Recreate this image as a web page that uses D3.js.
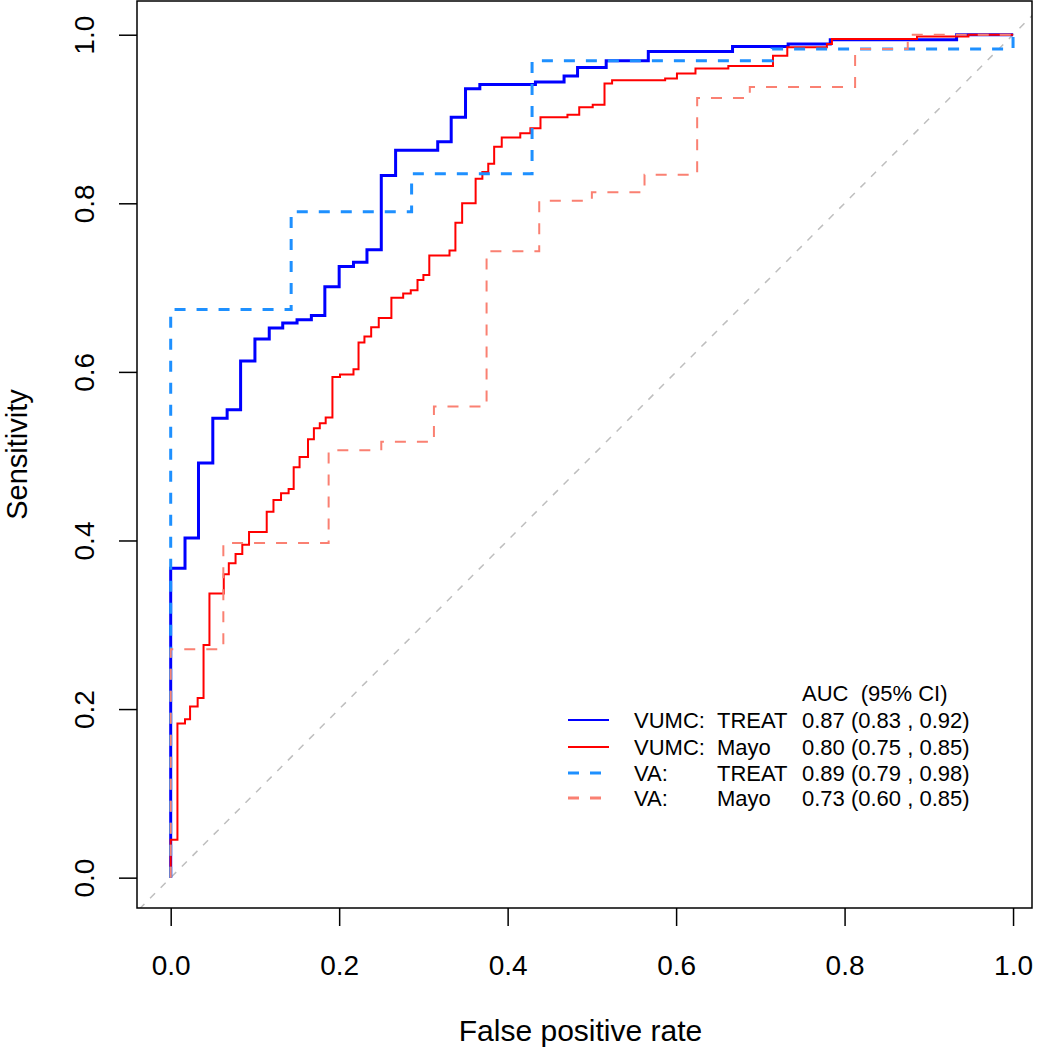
<!DOCTYPE html>
<html>
<head>
<meta charset="utf-8">
<script src="https://cdn.jsdelivr.net/npm/d3@7/dist/d3.min.js"></script>
<style>
  body { margin: 0; background: #fff; }
  .graph text { font-family: "Liberation Sans", Arial, sans-serif; fill: #000; }
</style>
</head>
<body>
<div class="graph"></div>
<script>
// tick labels
const xTicks = [0, 0.2, 0.4, 0.6, 0.8, 1.0]
const yTicks = [0, 0.2, 0.4, 0.6, 0.8, 1.0]

// VUMC: TREAT (step points, fpr / sensitivity)
const vumcTreatFpr = [0, 0, 0.017, 0.033, 0.050, 0.067, 0.083, 0.100, 0.117, 0.133, 0.150, 0.167, 0.183, 0.200, 0.217, 0.233, 0.250, 0.267, 0.317, 0.333, 0.350, 0.367, 0.433, 0.467, 0.483, 0.517, 0.567, 0.667, 0.733, 0.783, 0.933, 1]
const vumcTreatTpr = [0, 0.367, 0.403, 0.492, 0.545, 0.555, 0.613, 0.639, 0.652, 0.658, 0.662, 0.667, 0.701, 0.725, 0.730, 0.745, 0.833, 0.863, 0.873, 0.902, 0.936, 0.941, 0.944, 0.951, 0.961, 0.969, 0.980, 0.986, 0.989, 0.994, 1.0, 1.0]

// VUMC: Mayo
const vumcMayoFpr = [0, 0, 0.008, 0.017, 0.023, 0.032, 0.039, 0.046, 0.063, 0.069, 0.077, 0.085, 0.093, 0.114, 0.122, 0.131, 0.140, 0.146, 0.153, 0.163, 0.170, 0.177, 0.184, 0.192, 0.201, 0.217, 0.223, 0.230, 0.238, 0.247, 0.262, 0.276, 0.285, 0.293, 0.300, 0.307, 0.331, 0.338, 0.346, 0.362, 0.370, 0.377, 0.384, 0.393, 0.415, 0.427, 0.439, 0.471, 0.485, 0.501, 0.515, 0.524, 0.587, 0.601, 0.623, 0.662, 0.715, 0.732, 0.779, 0.785, 0.886, 0.947, 1]
const vumcMayoTpr = [0, 0.045, 0.183, 0.188, 0.203, 0.213, 0.276, 0.337, 0.360, 0.373, 0.384, 0.395, 0.410, 0.434, 0.448, 0.456, 0.461, 0.487, 0.499, 0.520, 0.533, 0.539, 0.546, 0.594, 0.597, 0.603, 0.635, 0.642, 0.653, 0.664, 0.688, 0.693, 0.697, 0.709, 0.715, 0.738, 0.744, 0.777, 0.800, 0.829, 0.837, 0.847, 0.867, 0.878, 0.883, 0.889, 0.902, 0.905, 0.914, 0.917, 0.942, 0.946, 0.948, 0.954, 0.960, 0.963, 0.975, 0.985, 0.989, 0.995, 0.998, 1.0, 1.0]

// VA: TREAT
const vaTreatFpr = [0, 0, 0.143, 0.286, 0.429, 0.714, 1]
const vaTreatTpr = [0, 0.674, 0.790, 0.835, 0.969, 0.983, 1.0]

// VA: Mayo
const vaMayoFpr = [0, 0, 0.0625, 0.1875, 0.25, 0.3125, 0.375, 0.4375, 0.5, 0.5625, 0.625, 0.6875, 0.8125, 0.875, 1]
const vaMayoTpr = [0, 0.271, 0.397, 0.507, 0.517, 0.559, 0.743, 0.803, 0.813, 0.834, 0.925, 0.938, 0.983, 1.0, 1.0]

// legend texts
const legendHeader = 'AUC  (95% CI)'
const legendSite = ['VUMC:', 'VUMC:', 'VA:', 'VA:']
const legendModel = ['TREAT', 'Mayo', 'TREAT', 'Mayo']
const legendAuc = ['0.87 (0.83 , 0.92)', '0.80 (0.75 , 0.85)', '0.89 (0.79 , 0.98)', '0.73 (0.60 , 0.85)']

const xTitle = 'False positive rate'
const yTitle = 'Sensitivity'

/***
 * base drawing info
 */
const BaseData = {
  width: 1048,
  height: 1050,
  svg: null,
  x: null,
  y: null,
  xlim: [-0.04, 1.0225],//plot region in data units
  ylim: [-0.036, 1.04],
  box: { left: 137, right: 1032, top: 1, bottom: 908 },
}

// line styles, same order as the series
const lineStyles = [
  { color: '#0000FF', width: 3, dash: null, legendWidth: 2 },
  { color: '#FF0000', width: 2, dash: null, legendWidth: 2 },
  { color: '#1E90FF', width: 3, dash: '11,11', legendWidth: 3 },
  { color: '#FA8072', width: 2, dash: '11,11', legendWidth: 3 },
]

const zipSeries = (fpr, tpr) => fpr.map((d, i) => [d, tpr[i]])

const initScales = () => {
  let { box } = BaseData
  BaseData.x = d3.scaleLinear().domain(BaseData.xlim).range([box.left, box.right])
  BaseData.y = d3.scaleLinear().domain(BaseData.ylim).range([box.bottom, box.top])
}

function drawAxes(svg) {
  let { x, y, box } = BaseData
  let fmt = d3.format('.1f')

  let gx = svg.append('g')
    .attr('transform', `translate(0,${box.bottom})`)
    .call(d3.axisBottom(x).tickValues(xTicks).tickFormat(fmt).tickSize(18).tickSizeOuter(0).tickPadding(29))
  gx.selectAll('text').style('font-size', '28px').attr('dy', '0.71em')

  let gy = svg.append('g')
    .attr('transform', `translate(${box.left},0)`)
    .call(d3.axisLeft(y).tickValues(yTicks).tickFormat(fmt).tickSize(18).tickSizeOuter(0))
  //labels parallel to the axis, like R
  gy.selectAll('text')
    .style('font-size', '28px')
    .attr('text-anchor', 'middle')
    .attr('x', 0)
    .attr('y', -43)
    .attr('dy', 0)
    .attr('transform', 'rotate(-90)')

  svg.selectAll('.tick line').attr('stroke', '#000').attr('stroke-width', 1.5)
  svg.selectAll('.domain').remove()

  svg.append('text')
    .attr('x', (box.left + box.right) / 2 - 4)
    .attr('y', 1041)
    .attr('text-anchor', 'middle')
    .style('font-size', '30px')
    .text(xTitle)

  svg.append('text')
    .attr('transform', `translate(27,${(box.top + box.bottom) / 2}) rotate(-90)`)
    .attr('text-anchor', 'middle')
    .style('font-size', '29px')
    .text(yTitle)
}

function drawCurves(svg) {
  let { x, y, box } = BaseData
  svg.append('clipPath').attr('id', 'plotClip')
    .append('rect')
    .attr('x', box.left).attr('y', box.top)
    .attr('width', box.right - box.left).attr('height', box.bottom - box.top)

  //chance diagonal
  svg.append('line')
    .attr('clip-path', 'url(#plotClip)')
    .attr('x1', x(-0.1)).attr('y1', y(-0.1))
    .attr('x2', x(1.1)).attr('y2', y(1.1))
    .attr('stroke', '#BEBEBE')
    .attr('stroke-width', 1.5)
    .attr('stroke-dasharray', '7,8')

  let series = [
    zipSeries(vumcTreatFpr, vumcTreatTpr),
    zipSeries(vumcMayoFpr, vumcMayoTpr),
    zipSeries(vaTreatFpr, vaTreatTpr),
    zipSeries(vaMayoFpr, vaMayoTpr),
  ]
  let line = d3.line()
    .x(d => x(d[0]))
    .y(d => y(d[1]))
    .curve(d3.curveStepAfter)

  svg.append('g').selectAll('path')
    .data(series)
    .enter()
    .append('path')
    .attr('d', line)
    .attr('fill', 'none')
    .attr('stroke', (d, i) => lineStyles[i].color)
    .attr('stroke-width', (d, i) => lineStyles[i].width)
    .attr('stroke-dasharray', (d, i) => lineStyles[i].dash)

  // frame
  svg.append('rect')
    .attr('x', box.left).attr('y', box.top)
    .attr('width', box.right - box.left).attr('height', box.bottom - box.top)
    .attr('fill', 'none')
    .attr('stroke', '#000')
    .attr('stroke-width', 1.5)
}

function drawLegend(svg) {
  let rowY = [720, 747, 773, 798]
  let g = svg.append('g').style('font-size', '22px')
  g.append('text')
    .attr('x', 802).attr('y', 693 + 8)
    .style('white-space', 'pre')
    .text(legendHeader)

  let rows = g.selectAll('g.row')
    .data(legendSite)
    .enter()
    .append('g')
    .attr('class', 'row')
    .attr('transform', (d, i) => `translate(0,${rowY[i]})`)

  rows.append('line')
    .attr('x1', 568).attr('x2', 609)
    .attr('stroke', (d, i) => lineStyles[i].color)
    .attr('stroke-width', (d, i) => lineStyles[i].legendWidth)
    .attr('stroke-dasharray', (d, i) => lineStyles[i].dash)
  rows.append('text').attr('x', 634).attr('y', 8).text(d => d)
  rows.append('text').attr('x', 717).attr('y', 8).text((d, i) => legendModel[i])
  rows.append('text').attr('x', 802).attr('y', 8).text((d, i) => legendAuc[i])
}

const draw = () => {
  initScales()
  BaseData.svg = d3.select('.graph')
    .append('svg')
    .attr('width', BaseData.width)
    .attr('height', BaseData.height)
  drawCurves(BaseData.svg)
  drawAxes(BaseData.svg)
  drawLegend(BaseData.svg)
}

draw()
</script>
</body>
</html>
